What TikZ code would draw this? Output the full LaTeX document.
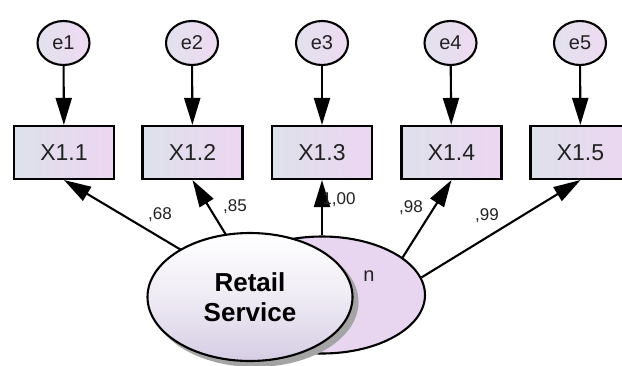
\documentclass[tikz,border=0pt]{standalone}
\usepackage{fontspec}
\setmainfont{Liberation Sans}
\usetikzlibrary{arrows.meta,shapes.geometric}
\definecolor{errL}{HTML}{E2E1EC}
\definecolor{errR}{HTML}{EEDAF2}
\definecolor{boxL}{HTML}{DDE1EA}
\definecolor{boxR}{HTML}{EDD6F2}
\definecolor{latpink}{HTML}{E8D6F1}
\definecolor{rsbot}{HTML}{D6CDE4}
\definecolor{shadowgray}{HTML}{A4A4A4}
\definecolor{txt}{HTML}{222222}
\tikzset{
  errnode/.style={ellipse, draw=black, line width=2.1pt, minimum width=52pt, minimum height=44pt,
    inner sep=0pt, left color=errL, right color=errR, text=txt, font=\fontsize{20}{23}\selectfont},
  obsbox/.style={rectangle, draw=black, line width=2.1pt, minimum width=100pt, minimum height=53pt,
    inner sep=0pt, left color=boxL, right color=boxR, text=txt, font=\fontsize{23}{26}\selectfont},
  arr/.style={-{Triangle[length=27pt,width=16pt]}, line width=2.1pt, draw=black},
  coef/.style={inner sep=0pt, text=txt, font=\fontsize{17}{19}\selectfont}
}
\begin{document}
\begin{tikzpicture}[x=1pt,y=-1pt]
\useasboundingbox (0,0) rectangle (622,365);
\fill[white] (0,0) rectangle (622,365);
% error terms
\node[errnode] (e1) at (63.5,43) {e1};
\node[errnode] (e2) at (192,43) {e2};
\node[errnode] (e3) at (322,43) {e3};
\node[errnode] (e4) at (450.5,43) {e4};
\node[errnode] (e5) at (580,43) {e5};
% observed
\node[obsbox] (x1) at (64,152.5) {X1.1};
\node[obsbox] (x2) at (192.5,152.5) {X1.2};
\node[obsbox] (x3) at (322,152.5) {X1.3};
\node[obsbox] (x4) at (451.5,152.5) {X1.4};
\node[obsbox] (x5) at (580.5,152.5) {X1.5};
\foreach \i in {1,...,5} \draw[arr] (e\i) -- (x\i);
% latent behind
\node[ellipse, draw=black, line width=2.1pt, fill=latpink, minimum width=206pt, minimum height=117pt] (lat) at (322,295) {};
\node[inner sep=0pt, text=txt, font=\fontsize{20}{23}\selectfont] (latn) at (369,276) {n};
\coordinate (s1) at (260,297);
\coordinate (s2) at (264,297);
\draw[arr] (s1) -- (x1.south);
\draw[arr] (s2) -- (x2.south);
\draw[arr] (lat.north) -- (x3.south);
\draw[arr] (lat.25.7) -- (x4.south);
\draw[arr] (lat.10.1) -- (x5.south);
% coefficients
\node[coef] (c1) at (160,215) {,68};
\node[coef] (c2) at (235,207) {,85};
\node[coef] (c3) at (339,200) {1,00};
\node[coef] (c4) at (411,208) {,98};
\node[coef] (c5) at (487,216) {,99};
% Retail Service
\node[ellipse, fill=shadowgray, minimum width=207pt, minimum height=130pt] (rsshadow) at (255,302) {};
\node[ellipse, draw=black, line width=2.1pt, top color=white, bottom color=rsbot, middle color=white!60!rsbot,
  minimum width=205pt, minimum height=128pt, align=center, text=black,
  font=\bfseries\fontsize{26}{30}\selectfont] (rs) at (250,297) {Retail\\Service};
\end{tikzpicture}
\end{document}
